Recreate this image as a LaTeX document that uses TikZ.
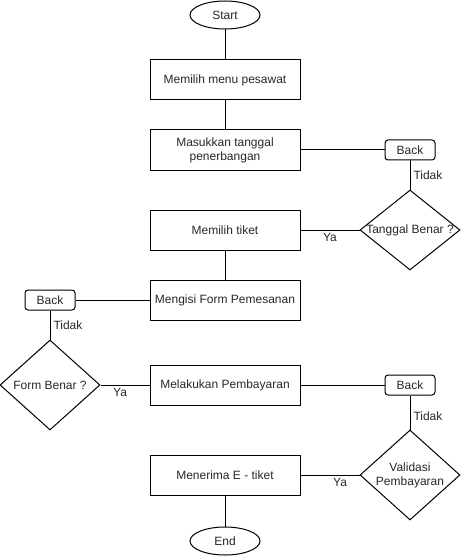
\documentclass[tikz,border=0pt]{standalone}
\usepackage{fontspec}
\usepackage{tikz}
\usepackage{xcolor}
\usetikzlibrary{shapes.geometric}
\setmainfont{Liberation Sans}
\definecolor{ink}{RGB}{0,0,0}
\definecolor{labeltext}{RGB}{40,40,40}
\tikzset{
  flow/.style={line width=1pt,draw=ink},
  lbl/.style={font=\fontsize{12}{14}\selectfont,text=labeltext,align=center},
  note/.style={lbl,inner sep=3pt},
  process/.style={draw=ink,line width=1pt,fill=white,lbl,minimum width=150pt,minimum height=40pt,inner sep=0pt},
  backbox/.style={draw=ink,line width=1pt,fill=white,lbl,rounded corners=3pt,minimum width=50pt,minimum height=20pt,inner sep=0pt},
  terminal/.style={draw=ink,line width=1pt,fill=white,lbl,ellipse,minimum width=70pt,minimum height=28pt,inner sep=0pt},
  decision/.style={draw=ink,line width=1pt,fill=white,diamond,minimum width=100pt,inner sep=0pt}
}

\begin{document}
\begin{tikzpicture}[x=1pt,y=-1pt]
  \useasboundingbox (0,0) rectangle (461,556);

  % main column
  \node[terminal] (start) at (225,15) {Start};
  \node[process] (menu) at (225,80) {Memilih menu pesawat};
  \node[process] (tanggal) at (225,150) {Masukkan tanggal\\penerbangan};
  \node[process] (tiket) at (225,230) {Memilih tiket};
  \node[process] (form) at (225,300) {Mengisi Form Pemesanan};
  \node[process] (bayar) at (225,385) {Melakukan Pembayaran};
  \node[process] (etiket) at (225,475) {Menerima E - tiket};
  \node[terminal] (end) at (225,541) {End};

  % checks and back steps
  \node[backbox] (backA) at (410,150) {Back};
  \node[decision,minimum height=80pt,label={[lbl]center:Tanggal Benar ?}] (cekTanggal) at (410,230) {};
  \node[backbox] (backB) at (50,300) {Back};
  \node[decision,minimum height=90pt,label={[lbl]center:Form Benar ?}] (cekForm) at (50,385) {};
  \node[backbox] (backC) at (410,385) {Back};
  \node[decision,minimum height=90pt,label={[lbl]center:Validasi\\Pembayaran}] (cekBayar) at (410,475) {};

  \draw[flow] (start) -- (menu);
  \draw[flow] (menu) -- (tanggal);
  \draw[flow] (tanggal.east) -- (backA.west);
  \draw[flow] (backA.south) -- (cekTanggal.north) node[midway,right,note] {Tidak};
  \draw[flow] (cekTanggal.west) -- (tiket.east) node[midway,below,note] {Ya};
  \draw[flow] (tiket) -- (form);
  \draw[flow] (form.west) -- (backB.east);
  \draw[flow] (backB.south) -- (cekForm.north) node[midway,right,note] {Tidak};
  \draw[flow] (cekForm.east) -- (bayar.west) node[pos=0.4,below,note] {Ya};
  \draw[flow] (bayar.east) -- (backC.west);
  \draw[flow] (backC.south) -- (cekBayar.north) node[pos=0.6,right,note] {Tidak};
  \draw[flow] (cekBayar.west) -- (etiket.east) node[pos=0.33,below,note] {Ya};
  \draw[flow] (etiket) -- (end);
\end{tikzpicture}
\end{document}
